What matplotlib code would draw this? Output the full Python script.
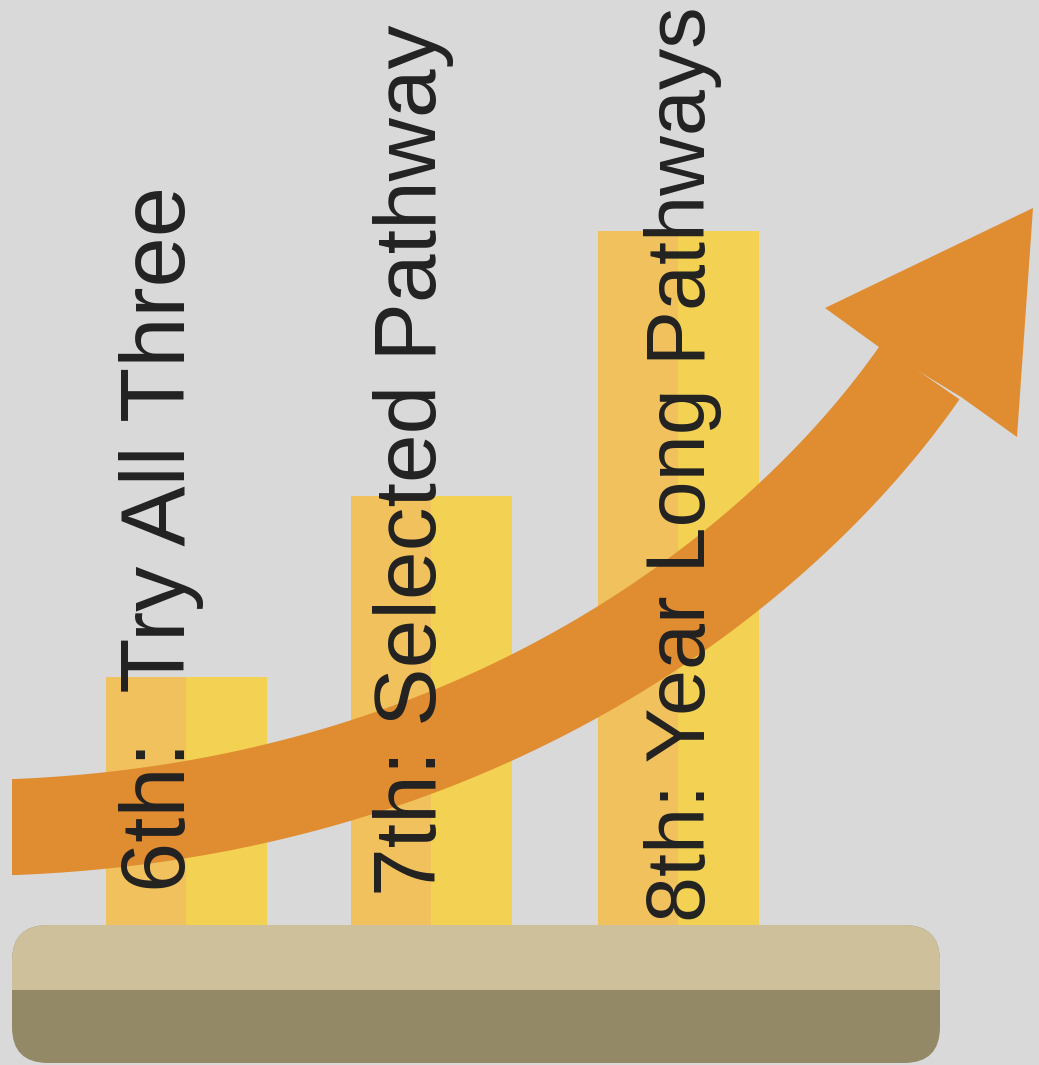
import numpy as np
import matplotlib
matplotlib.use("Agg")
import matplotlib.pyplot as plt
from matplotlib.patches import Polygon, FancyBboxPatch, Rectangle

# data (heights in pixel units above the base line)
labels = ["6th:  Try All Three", "7th: Selected Pathway", "8th: Year Long Pathways"]
bar_centers = [186, 431, 678]
bar_heights = [248, 429, 694]
text_x = [185, 436, 705]
text_y = [892, 896, 922]
text_size = [65, 63, 59.6]

W, H = 1039, 1065
base_y = 925
bar_w = 161

bg = "#d9d9d9"
left_col = "#f0c15c"
right_col = "#f3d152"
arrow_col = "#e08c30"

fig = plt.figure(figsize=(W / 100, H / 100), dpi=100)
fig.patch.set_facecolor(bg)
ax = fig.add_axes([0, 0, 1, 1])
ax.set_facecolor(bg)
ax.set_xlim(0, W)
ax.set_ylim(H, 0)
ax.axis("off")

# bars, each split into two shades
c = np.array(bar_centers, dtype=float)
h = np.array(bar_heights, dtype=float)
ax.bar(c - bar_w / 4, -h, width=bar_w / 2, bottom=base_y, color=left_col, zorder=2)
ax.bar(c + bar_w / 4, -h, width=bar_w / 2, bottom=base_y, color=right_col, zorder=2)

# base platform
base = FancyBboxPatch((12, base_y), 928, 138, boxstyle="round,pad=0,rounding_size=36",
                      facecolor="#938966", edgecolor="none", zorder=3)
ax.add_patch(base)
top = Rectangle((0, base_y), W, 65, facecolor="#cdc09b", edgecolor="none", zorder=4)
ax.add_patch(top)
top.set_clip_path(base)

# curved arrow: cubic bezier centre line, offset by half width
P = np.array([[-20, 828], [480, 820], [790, 560], [920, 372]], dtype=float)
t = np.linspace(0, 1, 200)[:, None]
curve = ((1 - t) ** 3) * P[0] + 3 * ((1 - t) ** 2) * t * P[1] + 3 * (1 - t) * t ** 2 * P[2] + t ** 3 * P[3]
d = 3 * ((1 - t) ** 2) * (P[1] - P[0]) + 6 * (1 - t) * t * (P[2] - P[1]) + 3 * t ** 2 * (P[3] - P[2])
d = d / np.linalg.norm(d, axis=1, keepdims=True)
n = np.column_stack([d[:, 1], -d[:, 0]])
half = 48
upper = curve + n * half
lower = curve - n * half
shaft = np.vstack([upper, lower[::-1]])
clip = Rectangle((12, 0), W, H, transform=ax.transData, visible=False)
ax.add_patch(clip)
sh = Polygon(shaft, closed=True, facecolor=arrow_col, edgecolor="none", zorder=5)
ax.add_patch(sh)
sh.set_clip_path(clip)
head = np.array([upper[-1] + [-2, 2], [825, 308], [1033, 208], [1017, 437], lower[-1] + [2, -2]])
ax.add_patch(Polygon(head, closed=True, facecolor=arrow_col, edgecolor="none", zorder=5))

for lab, x, y, s in zip(labels, text_x, text_y, text_size):
    ax.text(x, y, lab, rotation=90, rotation_mode="anchor", ha="left", va="baseline",
            fontsize=s, family="Liberation Sans", color="#222222", zorder=6)

fig.savefig("out.png", dpi=100, facecolor=bg)
